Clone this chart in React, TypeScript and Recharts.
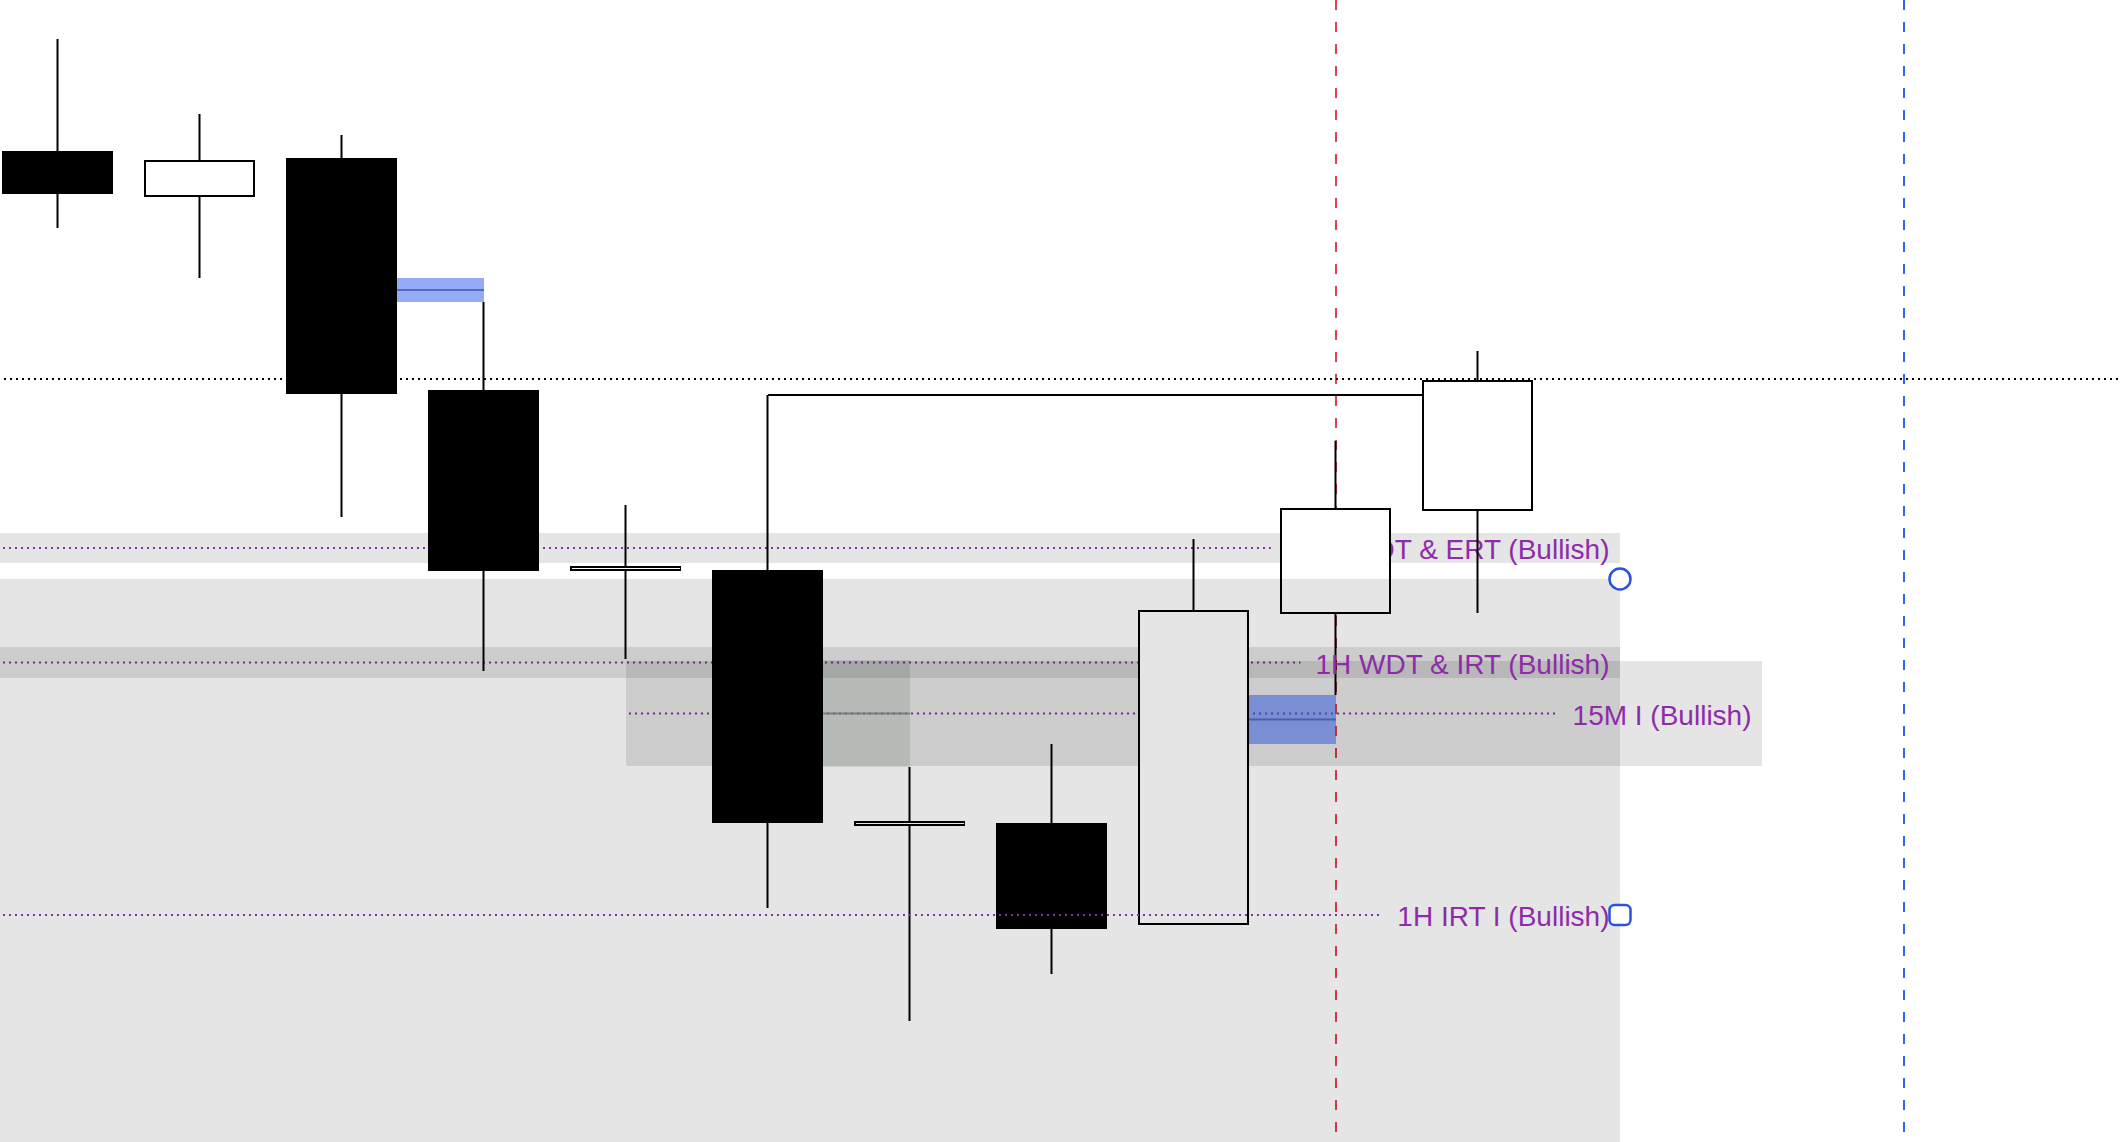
import React from "react";
import {
  ComposedChart,
  Bar,
  XAxis,
  YAxis,
  ReferenceArea,
  ReferenceLine,
} from "recharts";

// candles (slot index on the time axis, prices in chart units)
const slots = [0, 1, 2, 3, 4, 5, 6, 7, 8, 9, 10];
const opens = [99.1, 94.5, 98.4, 75.2, 57.1, 57.2, 31.6, 31.9, 21.7, 52.8, 63.1];
const highs = [110.3, 102.8, 100.7, 84.0, 63.7, 74.7, 37.5, 39.8, 60.3, 70.1, 79.1];
const lows = [91.4, 86.4, 62.5, 47.1, 48.3, 23.4, 12.1, 16.8, 21.7, 44.7, 52.9];
const closes = [94.8, 98.2, 74.8, 57.1, 57.6, 31.9, 32.1, 21.3, 53.2, 63.4, 76.2];

// labelled zones
const zoneLabels = ["15M WDT & ERT (Bullish)", "1H WDT & IRT (Bullish)", "15M I (Bullish)", "1H IRT I (Bullish)"];
const zoneFrom = [-1, -1, 4, -1];
const zoneTo = [11, 11, 12, 11];
const zoneHigh = [60.9, 49.5, 48.1, 56.3];
const zoneLow = [57.9, 46.4, 37.6, -10.9];

// small unlabelled zone
const innerFrom = 5;
const innerTo = 6;
const innerHigh = 48.2;
const innerLow = 37.5;

// fair value gaps
const gapFrom = [2, 8];
const gapTo = [3, 9];
const gapHigh = [86.4, 44.7];
const gapLow = [84.0, 39.8];

// levels / markers
const lastPrice = 76.3;
const swingLevel = 74.7;
const swingFrom = 5;
const swingTo = 10;
const sessionMarks = [9, 13];

const X_MIN = -0.4085;
const X_MAX = 14.5352;
const Y_MIN = 0;
const Y_MAX = 114.2;

const PURPLE = "#8e2ba9";
const FONT = '"Liberation Sans", Arial, sans-serif';

const candles = slots.map((s, i) => ({
  slot: s,
  open: opens[i],
  high: highs[i],
  low: lows[i],
  close: closes[i],
}));

let ctx: CanvasRenderingContext2D | null = null;
function textWidth(t: string) {
  if (!ctx) ctx = document.createElement("canvas").getContext("2d");
  if (!ctx) return t.length * 14;
  ctx.font = `28px ${FONT}`;
  return ctx.measureText(t).width;
}

function Candle(props: any) {
  const { x, y, width, height } = props;
  const d = props.payload ?? props;
  if (height == null || !d) return null;
  const k = height / (d.high - d.low || 1);
  const yOf = (v: number) => y + (d.high - v) * k;
  const cx = x + width / 2;
  const top = yOf(Math.max(d.open, d.close));
  const bottom = yOf(Math.min(d.open, d.close));
  const bull = d.close > d.open;
  return (
    <g>
      <line x1={cx} x2={cx} y1={y} y2={y + height} stroke="#000" strokeWidth={2} />
      {bull ? (
        <rect x={x + 1} y={top + 1} width={width - 2} height={Math.max(bottom - top - 2, 1)} fill="#fff" stroke="#000" strokeWidth={2} />
      ) : (
        <rect x={x} y={top} width={width} height={Math.max(bottom - top, 1)} fill="#000" />
      )}
    </g>
  );
}

function zoneLabel(label: string, x: number, width: number, mid: number) {
  return (
    <text x={x + width - 10.5} y={mid + 11} textAnchor="end" fontSize={28} fontFamily={FONT} fill={PURPLE}>
      {label}
    </text>
  );
}

function zoneShape(label: string, withText: boolean, handles: boolean) {
  return (p: any) => {
    const { x, y, width, height } = p;
    const mid = y + height / 2;
    const right = x + width;
    const lineEnd = right - 10.5 - textWidth(label) - 14;
    return (
      <g>
        <rect x={x} y={y} width={width} height={height} fill="rgba(0,0,0,0.1)" />
        <line x1={Math.max(x, 0)} x2={lineEnd} y1={mid} y2={mid} stroke={PURPLE} strokeWidth={2} strokeDasharray="2 4" strokeDashoffset={3} />
        {withText && zoneLabel(label, x, width, mid)}
        {handles && (
          <g>
            <circle cx={right} cy={y} r={10.5} fill="#fff" stroke="#2a52df" strokeWidth={2.5} />
            <rect x={right - 10.5} y={mid - 10} width={21} height={20} rx={5} fill="#fff" stroke="#2a52df" strokeWidth={2.5} />
          </g>
        )}
      </g>
    );
  };
}

function labelShape(label: string) {
  return (p: any) => {
    const { x, y, width, height } = p;
    return <g>{zoneLabel(label, x, width, y + height / 2)}</g>;
  };
}

function innerShape(p: any) {
  const { x, y, width, height } = p;
  const mid = y + height / 2;
  return (
    <g>
      <rect x={x} y={y} width={width} height={height} fill="rgba(25,67,33,0.12)" />
      <line x1={x} x2={x + width} y1={mid} y2={mid} stroke="#8a8d8a" strokeWidth={2} />
    </g>
  );
}

function gapShape(p: any) {
  const { x, y, width, height } = p;
  const mid = y + height / 2;
  return (
    <g>
      <rect x={x} y={y} width={width} height={height} fill="rgba(50,95,240,0.52)" />
      <line x1={x} x2={x + width} y1={mid} y2={mid} stroke="#5468c0" strokeWidth={2} />
    </g>
  );
}

export default function App() {
  const last = zoneLabels.length - 1;
  return (
    <div
      style={{
        position: "absolute",
        left: 0,
        top: 0,
        width: 2122,
        height: 1142,
        overflow: "hidden",
        background: "#fff",
      }}
    >
      <ComposedChart width={2122} height={1142} data={candles} margin={{ top: 0, right: 0, bottom: 0, left: 0 }}>
        <XAxis dataKey="slot" type="number" domain={[X_MIN, X_MAX]} allowDataOverflow hide />
        <YAxis type="number" domain={[Y_MIN, Y_MAX]} allowDataOverflow hide />

        <ReferenceLine
          segment={[{ x: sessionMarks[0], y: Y_MAX }, { x: sessionMarks[0], y: Y_MIN }]}
          stroke="#e2414f"
          strokeWidth={2}
          strokeDasharray="10 12"
          ifOverflow="visible"
          zIndex={10}
        />
        <ReferenceLine
          segment={[{ x: sessionMarks[1], y: Y_MAX }, { x: sessionMarks[1], y: Y_MIN }]}
          stroke="#3264f0"
          strokeWidth={2}
          strokeDasharray="10 12"
          ifOverflow="visible"
          zIndex={10}
        />
        <ReferenceLine y={lastPrice} stroke="#000" strokeWidth={2} strokeDasharray="2 4" strokeDashoffset={2} ifOverflow="visible" zIndex={20} />
        <ReferenceLine
          segment={[{ x: swingFrom, y: swingLevel }, { x: swingTo, y: swingLevel }]}
          stroke="#000"
          strokeWidth={2}
          ifOverflow="visible"
          zIndex={20}
        />

        {zoneLabels.slice(0, last).map((lab, i) => (
          <ReferenceArea
            key={lab}
            x1={zoneFrom[i]}
            x2={zoneTo[i]}
            y1={zoneLow[i]}
            y2={zoneHigh[i]}
            ifOverflow="visible"
            shape={zoneShape(lab, i === 0, false)}
            zIndex={30 + i}
          />
        ))}
        <ReferenceArea
          x1={innerFrom}
          x2={innerTo}
          y1={innerLow}
          y2={innerHigh}
          ifOverflow="visible"
          shape={innerShape}
          zIndex={40}
        />
        {gapFrom.map((g, i) => (
          <ReferenceArea
            key={`gap${i}`}
            x1={g}
            x2={gapTo[i]}
            y1={gapLow[i]}
            y2={gapHigh[i]}
            ifOverflow="visible"
            shape={gapShape}
            zIndex={50}
          />
        ))}

        <Bar
          dataKey={(d: any) => [d.low, d.high]}
          barSize={111}
          shape={(p: any) => <Candle {...p} />}
          isAnimationActive={false}
          zIndex={300}
        />

        <ReferenceArea
          x1={zoneFrom[last]}
          x2={zoneTo[last]}
          y1={zoneLow[last]}
          y2={zoneHigh[last]}
          ifOverflow="visible"
          shape={zoneShape(zoneLabels[last], true, true)}
          zIndex={400}
        />

        {[1, 2].map((i) => (
          <ReferenceArea
            key={`label${i}`}
            x1={zoneFrom[i]}
            x2={zoneTo[i]}
            y1={zoneLow[i]}
            y2={zoneHigh[i]}
            ifOverflow="visible"
            shape={labelShape(zoneLabels[i])}
            zIndex={410}
          />
        ))}
      </ComposedChart>
    </div>
  );
}
